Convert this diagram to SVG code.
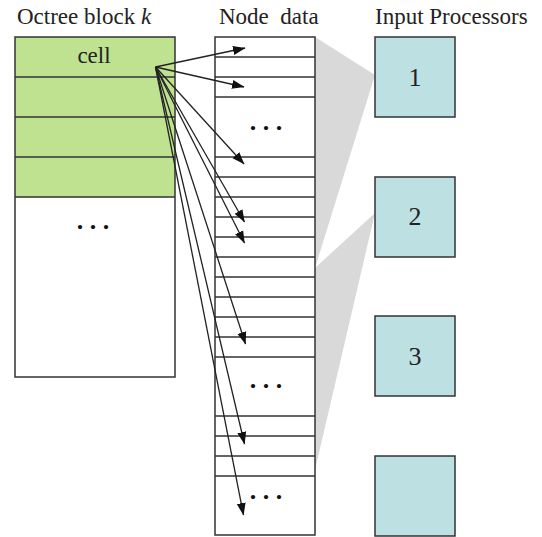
<svg xmlns="http://www.w3.org/2000/svg" width="542" height="537" viewBox="0 0 542 537">
<style>
text{font-family:"Liberation Serif","Times New Roman",serif;fill:#222}
.t{font-size:23px}
.box{stroke:#333;stroke-width:1.5}
.div{stroke:#333;stroke-width:1.4;fill:none}
.arr{stroke:#222;stroke-width:1.3;fill:none;marker-end:url(#ah)}
.proc{fill:#bde0e3;stroke:#333;stroke-width:1.5}
.num{font-size:26px;text-anchor:middle}
.dots{font-size:26px;font-weight:bold;text-anchor:middle;fill:#111}
</style>
<defs>
<marker id="ah" markerUnits="userSpaceOnUse" markerWidth="13" markerHeight="10" viewBox="0 0 13 10" refX="12" refY="5" orient="auto">
<path d="M0,0.5 L12.5,5 L0,9.5 z" fill="#111"/>
</marker>
</defs>
<rect width="542" height="537" fill="#fff"/>

<g id="titles">
<text class="t" x="17" y="24">Octree block <tspan font-style="italic">k</tspan></text>
<text class="t" x="219" y="24" xml:space="preserve">Node  data</text>
<text class="t" x="375" y="24">Input Processors</text>
</g>

<g id="mapping" fill="#d9d9d9">
<polygon points="315,37 375,75 315,268"/>
<polygon points="315,268 375,213 315,470"/>
</g>

<g id="octree-block">
<rect x="15" y="37" width="160" height="160" fill="#bfe291"/>
<rect class="box" x="15" y="37" width="160" height="340" fill="none"/>
<path class="div" d="M15,77H175M15,117H175M15,157H175M15,197H175"/>
<text x="94" y="63" font-size="23" text-anchor="middle">cell</text>
<text class="dots" x="93" y="229">. . .</text>
</g>

<g id="node-data">
<rect class="box" x="215" y="37" width="100" height="498" fill="#fff"/>
<path class="div" d="M215,57H315M215,77H315M215,97H315M215,157H315M215,177H315M215,197H315M215,217H315M215,237H315M215,257H315M215,277H315M215,297H315M215,317H315M215,337H315M215,357H315M215,416H315M215,436H315M215,456H315M215,476H315"/>
<text class="dots" x="266" y="130">. . .</text>
<text class="dots" x="266" y="388">. . .</text>
<text class="dots" x="266" y="499">. . .</text>
</g>

<g id="processor-1"><rect class="proc" x="375" y="37" width="80" height="80"/><text class="num" x="415" y="86">1</text></g>
<g id="processor-2"><rect class="proc" x="375" y="177" width="80" height="80"/><text class="num" x="415" y="225">2</text></g>
<g id="processor-3"><rect class="proc" x="375" y="316" width="80" height="80"/><text class="num" x="415" y="365">3</text></g>
<g id="processor-4"><rect class="proc" x="375" y="456" width="80" height="80"/></g>

<g id="connectors">
<line class="arr" x1="155.5" y1="67" x2="245" y2="48"/>
<line class="arr" x1="155.5" y1="67" x2="244" y2="87"/>
<line class="arr" x1="155.5" y1="67" x2="244" y2="164"/>
<line class="arr" x1="155.5" y1="67" x2="244.5" y2="222"/>
<line class="arr" x1="155.5" y1="67" x2="244.5" y2="243"/>
<line class="arr" x1="155.5" y1="67" x2="245.5" y2="344"/>
<line class="arr" x1="155.5" y1="67" x2="244.5" y2="444"/>
<line class="arr" x1="155.5" y1="67" x2="243.5" y2="515"/>
</g>
</svg>
